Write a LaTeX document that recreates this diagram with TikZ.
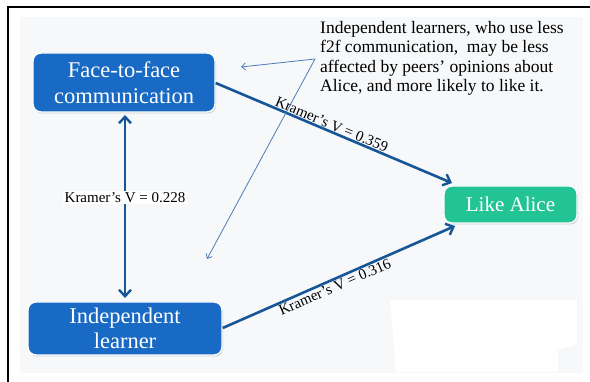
\documentclass[tikz,border=0pt]{standalone}
\usepackage{fontspec}
\setmainfont{Liberation Serif}
\usetikzlibrary{arrows.meta,shadows}
\definecolor{boxblue}{RGB}{24,106,196}
\definecolor{boxteal}{RGB}{34,196,150}
\definecolor{arrblue}{RGB}{22,86,152}
\definecolor{thinblue}{RGB}{78,124,184}
\definecolor{bggray}{RGB}{246,248,250}
\tikzset{
  box/.style={rounded corners=8pt, draw=white, line width=1.4pt, text=white,
    align=center, inner sep=0pt,
    drop shadow={opacity=0.35, shadow xshift=1pt, shadow yshift=-1.5pt}},
  thick arrow/.style={draw=arrblue, line width=2.6pt,
    -{Straight Barb[length=6.5pt,width=12pt,line width=2.4pt]}},
  thin arrow/.style={draw=thinblue, line width=0.8pt,
    -{Straight Barb[length=4pt,width=7pt,line width=0.8pt]}},
  vlabel/.style={font=\fontsize{15}{16}\selectfont, text=black, inner sep=1.5pt}
}
\begin{document}
\begin{tikzpicture}[x=1pt,y=-1pt]
\useasboundingbox (0,0) rectangle (590,382);
\fill[white] (0,0) rectangle (590,382);
\fill[bggray] (20,17) rectangle (583,373);
\fill[white] (390,300) -- (577,300) -- (577,344) -- (558,350) -- (558,372) -- (396,372) -- cycle;
\draw[black, line width=2pt] (8,382) -- (8,7) -- (590,7);

\node[box, fill=boxblue, minimum width=182pt, minimum height=59pt,
      font=\fontsize{22.5}{25.5}\selectfont] (f2f) at (124,82.5) {Face-to-face\\communication};
\node[box, fill=boxblue, minimum width=194pt, minimum height=53pt,
      font=\fontsize{22.5}{25.5}\selectfont] (il) at (125,328.5) {Independent\\learner};
\node[box, fill=boxteal, minimum width=133pt, minimum height=37pt,
      font=\fontsize{21}{22}\selectfont] (alice) at (510.5,204.5) {Like Alice};

\coordinate (vtx) at (315,59);
\coordinate (t1) at (241,67);
\coordinate (t2) at (207,259);

\draw[thick arrow, {Straight Barb[length=6.5pt,width=12pt,line width=2.4pt]}-{Straight Barb[length=6.5pt,width=12pt,line width=2.4pt]}]
  (125,115) -- node[vlabel, fill=white, pos=0.45] {Kramer’s V = 0.228} (125,298);
\draw[thick arrow] (f2f.east |- 0,83) -- node[vlabel, sloped, above, pos=0.48, inner sep=0.5pt] {Kramer’s V = 0.359} (452,183);
\draw[thick arrow] (il.east |- 0,328) -- node[vlabel, sloped, below, pos=0.47, inner sep=1pt] {Kramer’s V = 0.316} (455,226);

\draw[thin arrow] (vtx) -- (t1);
\draw[thin arrow] (vtx) -- (t2);

\node[anchor=north west, inner sep=0pt, align=left,
      font=\fontsize{17.5}{19.5}\selectfont] (note) at (320,21)
  {Independent learners, who use less\\
   f2f communication,\ \ may be less\\
   affected by peers’ opinions about\\
   Alice, and more likely to like it.};
\end{tikzpicture}
\end{document}
